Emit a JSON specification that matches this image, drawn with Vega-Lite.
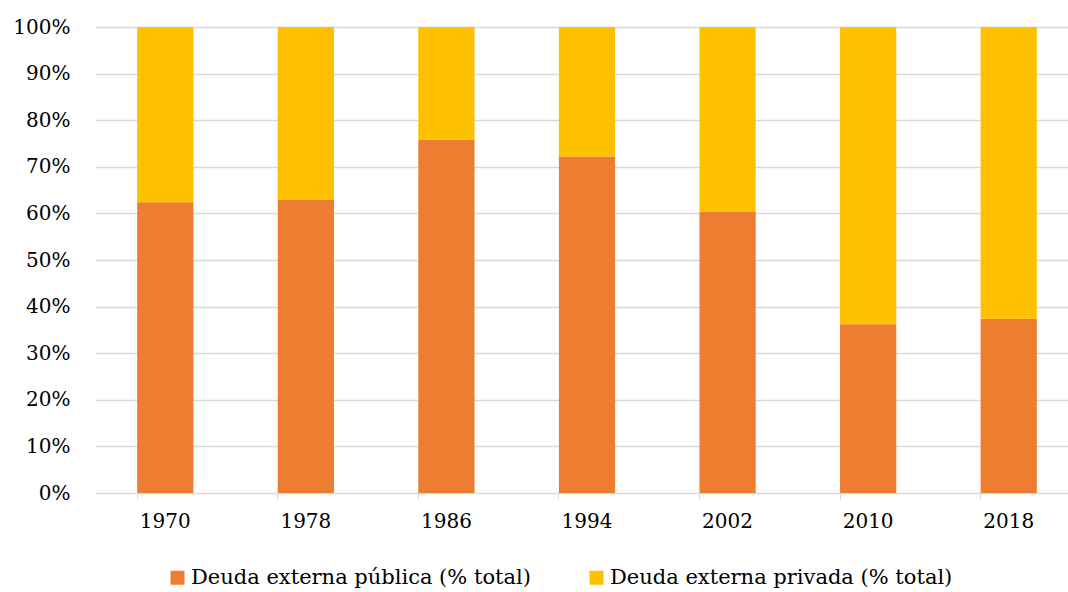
{
  "$schema": "https://vega.github.io/schema/vega-lite/v6.json",
  "autosize": {"type": "none"},
  "padding": {"left": 95, "top": 27, "right": 0, "bottom": 99},
  "width": 984,
  "height": 466,
  "background": "white",
  "data": {
    "values": [
      {"anio": "1970", "serie": "Deuda externa pública (% total)", "orden": 1, "valor": 62.4},
      {"anio": "1970", "serie": "Deuda externa privada (% total)", "orden": 2, "valor": 37.6},
      {"anio": "1978", "serie": "Deuda externa pública (% total)", "orden": 1, "valor": 63.0},
      {"anio": "1978", "serie": "Deuda externa privada (% total)", "orden": 2, "valor": 37.0},
      {"anio": "1986", "serie": "Deuda externa pública (% total)", "orden": 1, "valor": 75.8},
      {"anio": "1986", "serie": "Deuda externa privada (% total)", "orden": 2, "valor": 24.2},
      {"anio": "1994", "serie": "Deuda externa pública (% total)", "orden": 1, "valor": 72.2},
      {"anio": "1994", "serie": "Deuda externa privada (% total)", "orden": 2, "valor": 27.8},
      {"anio": "2002", "serie": "Deuda externa pública (% total)", "orden": 1, "valor": 60.4},
      {"anio": "2002", "serie": "Deuda externa privada (% total)", "orden": 2, "valor": 39.6},
      {"anio": "2010", "serie": "Deuda externa pública (% total)", "orden": 1, "valor": 36.2},
      {"anio": "2010", "serie": "Deuda externa privada (% total)", "orden": 2, "valor": 63.8},
      {"anio": "2018", "serie": "Deuda externa pública (% total)", "orden": 1, "valor": 37.4},
      {"anio": "2018", "serie": "Deuda externa privada (% total)", "orden": 2, "valor": 62.6}
    ]
  },
  "mark": {"type": "bar", "stroke": null},
  "encoding": {
    "x": {
      "field": "anio",
      "type": "nominal",
      "sort": null,
      "scale": {"paddingInner": 0.6, "paddingOuter": 0.3},
      "axis": {
        "title": null,
        "labelAngle": 0,
        "labelFont": "DejaVu Serif",
        "labelFontSize": 20,
        "labelColor": "#000000",
        "labelPadding": 12,
        "bandPosition": 0,
        "tickSize": 6,
        "tickColor": "#D9D9D9",
        "domainColor": "#D9D9D9",
        "grid": false
      }
    },
    "y": {
      "field": "valor",
      "type": "quantitative",
      "stack": "zero",
      "scale": {"domain": [0, 100], "nice": false},
      "axis": {
        "title": null,
        "values": [0, 10, 20, 30, 40, 50, 60, 70, 80, 90, 100],
        "labelExpr": "datum.value + '%'",
        "labelFont": "DejaVu Serif",
        "labelFontSize": 20,
        "labelColor": "#000000",
        "labelPadding": 25,
        "domain": false,
        "ticks": false,
        "grid": true,
        "gridColor": "#D9D9D9",
        "gridWidth": 1.5
      }
    },
    "order": {"field": "orden", "type": "quantitative", "sort": "ascending"},
    "color": {
      "field": "serie",
      "type": "nominal",
      "sort": ["Deuda externa pública (% total)", "Deuda externa privada (% total)"],
      "scale": {
        "domain": ["Deuda externa pública (% total)", "Deuda externa privada (% total)"],
        "range": ["#ED7D31", "#FFC000"]
      },
      "legend": {
        "title": null,
        "orient": "none",
        "legendX": 72,
        "legendY": 540,
        "direction": "horizontal",
        "symbolType": "square",
        "symbolSize": 196,
        "symbolStrokeWidth": 0,
        "labelFont": "DejaVu Serif",
        "labelFontSize": 21,
        "labelColor": "#000000",
        "labelOffset": 3,
        "labelLimit": 420,
        "columnPadding": 55
      }
    }
  },
  "config": {
    "view": {"stroke": null}
  }
}
